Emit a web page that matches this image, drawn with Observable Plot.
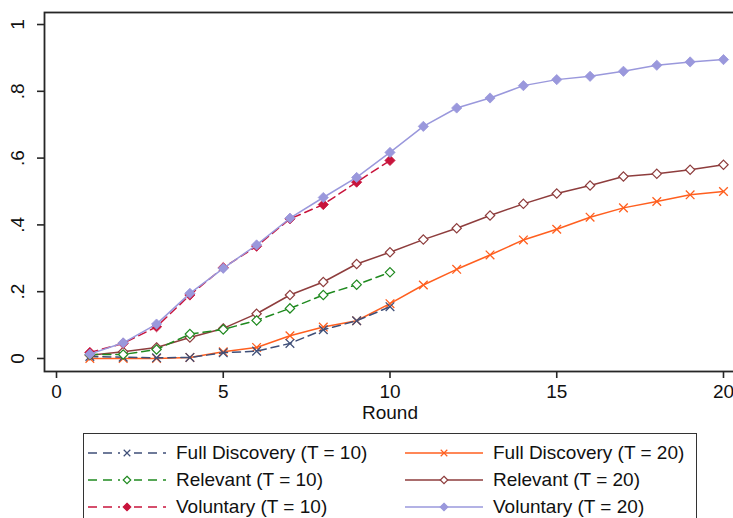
<!DOCTYPE html>
<html><head><meta charset="utf-8">
<script src="https://cdn.jsdelivr.net/npm/d3@7"></script>
<script src="https://cdn.jsdelivr.net/npm/@observablehq/plot@0.6"></script>
<style>
html,body{margin:0;padding:0;background:#fff;overflow:hidden;width:733px;height:518px}
#chart{position:relative;width:733px;height:518px}
#chart > svg{max-width:none !important;position:absolute;left:0;top:0}
.legend{position:absolute;left:83px;top:433px;width:614px;height:110px;border:1.6px solid #333;box-sizing:border-box;font:19px "Liberation Sans",Arial,sans-serif;color:#111;background:#fff}
.item{position:absolute;height:27px;display:flex;align-items:center;white-space:nowrap}
.item svg{margin-right:10px}
</style></head><body><div id="chart"></div>
<script>
const rounds = [1,2,3,4,5,6,7,8,9,10,11,12,13,14,15,16,17,18,19,20];
const fullDiscovery10 = [0.006,0.004,0.002,0.003,0.017,0.022,0.045,0.086,0.113,0.155];
const relevant10      = [0.012,0.012,0.027,0.073,0.087,0.114,0.150,0.190,0.221,0.258];
const voluntary10     = [0.018,0.045,0.095,0.190,0.272,0.336,0.418,0.461,0.528,0.593];
const fullDiscovery20 = [0.000,0.000,0.000,0.003,0.020,0.033,0.068,0.094,0.113,0.164,0.220,0.267,0.310,0.355,0.387,0.423,0.451,0.470,0.490,0.500];
const relevant20      = [0.010,0.020,0.033,0.063,0.090,0.134,0.190,0.229,0.283,0.318,0.356,0.390,0.428,0.463,0.494,0.518,0.545,0.553,0.565,0.580];
const voluntary20     = [0.013,0.047,0.103,0.195,0.270,0.340,0.420,0.482,0.542,0.617,0.695,0.750,0.780,0.817,0.835,0.845,0.860,0.878,0.888,0.895];
const xTicks = [0,5,10,15,20];
const yTicks = [0,0.2,0.4,0.6,0.8,1];
const yTickLabels = ["0",".2",".4",".6",".8","1"];

const series = [
  {name:"Full Discovery (T = 10)", values:fullDiscovery10, color:"#3f4f78", dash:"8,5", symbol:"times", filled:false, hollow:false},
  {name:"Relevant (T = 10)",       values:relevant10,      color:"#208a20", dash:"8,5", symbol:"diamond2", filled:false, hollow:true},
  {name:"Voluntary (T = 10)",      values:voluntary10,     color:"#c8143c", dash:"8,5", symbol:"diamond2", filled:true, hollow:false},
  {name:"Full Discovery (T = 20)", values:fullDiscovery20, color:"#ff5f1f", dash:null,  symbol:"times", filled:false, hollow:false},
  {name:"Relevant (T = 20)",       values:relevant20,      color:"#8e3d3d", dash:null,  symbol:"diamond2", filled:false, hollow:true},
  {name:"Voluntary (T = 20)",      values:voluntary20,     color:"#9a98dc", dash:null,  symbol:"diamond2", filled:true, hollow:false}
];
const drawOrder = [3,0,4,1,2,5];

const marks = [];
for (const i of drawOrder) {
  const s = series[i];
  const data = s.values.map((v,k)=>({round:rounds[k], value:v}));
  marks.push(Plot.line(data, {x:"round", y:"value", stroke:s.color, strokeWidth:1.5, strokeDasharray:s.dash || undefined}));
  if (s.symbol === "times") {
    marks.push(Plot.dot(data, {x:"round", y:"value", symbol:"times", r:4, stroke:s.color, strokeWidth:1.3}));
  } else if (s.hollow) {
    marks.push(Plot.dot(data, {x:"round", y:"value", symbol:"diamond2", r:4.2, stroke:s.color, fill:"white", strokeWidth:1.2}));
  } else {
    marks.push(Plot.dot(data, {x:"round", y:"value", symbol:"diamond2", r:4.6, fill:s.color, stroke:s.color, strokeWidth:0.8}));
  }
}

const chart = Plot.plot({
  width:745, height:433,
  marginLeft:44, marginRight:0, marginTop:12, marginBottom:62,
  style:{fontFamily:'"Liberation Sans", Arial, sans-serif', fontSize:"19px", color:"#111", background:"white", overflow:"visible", maxWidth:"none"},
  x:{domain:[-0.36,20.66], axis:null},
  y:{domain:[-0.039,1.036], axis:null},
  marks:[
    Plot.frame({stroke:"#262626", strokeWidth:1.8}),
    Plot.axisX(xTicks, {tickSize:7, tickPadding:6, stroke:"#262626", strokeWidth:1.6, fontSize:19, fill:"#111", label:null}),
    Plot.axisY(yTicks, {tickSize:7, stroke:"#262626", strokeWidth:1.6, text:null, label:null}),
    Plot.text(yTicks, {y:d=>d, text:(d,i)=>yTickLabels[i], frameAnchor:"left", dx:-27, rotate:-90, fontSize:19, fill:"#111", lineAnchor:"middle", textAnchor:"middle"}),
    Plot.text(["Round"], {x:10, frameAnchor:"bottom", dy:41, text:d=>d, fontSize:19, fill:"#111", lineAnchor:"middle"}),
    ...marks
  ]
});
const root = document.getElementById("chart");
root.appendChild(chart);

const legend = document.createElement("div");
legend.className = "legend";
root.appendChild(legend);
const cols = [[0,1,2],[3,4,5]];
const colLeft = [4, 321];
const rowTop = [5, 32, 59];
cols.forEach((col,c)=>col.forEach((idx,r)=>{
  const s = series[idx];
  const item = document.createElement("div");
  item.className = "item";
  item.style.left = colLeft[c]+"px";
  item.style.top = rowTop[r]+"px";
  const W = 78, H = 16, cx = W/2, cy = H/2;
  const svg = d3.create("svg").attr("width",W).attr("height",H);
  svg.append("line").attr("x1",0).attr("x2",W).attr("y1",cy).attr("y2",cy)
    .attr("stroke",s.color).attr("stroke-width",1.6).attr("stroke-dasharray",s.dash ? "9,6" : null);
  if (s.dash) svg.append("rect").attr("x",cx-7).attr("y",0).attr("width",14).attr("height",H).attr("fill","white");
  const sym = d3.symbol(s.symbol==="times" ? d3.symbolTimes : d3.symbolDiamond2, s.symbol==="times" ? 30 : 36)();
  svg.append("path").attr("d",sym).attr("transform",`translate(${cx},${cy})`)
    .attr("fill", s.filled ? s.color : (s.hollow ? "white" : "none"))
    .attr("stroke", s.color).attr("stroke-width",1.2);
  item.appendChild(svg.node());
  const t = document.createElement("span");
  t.textContent = s.name;
  item.appendChild(t);
  legend.appendChild(item);
}));
</script>
</body></html>
